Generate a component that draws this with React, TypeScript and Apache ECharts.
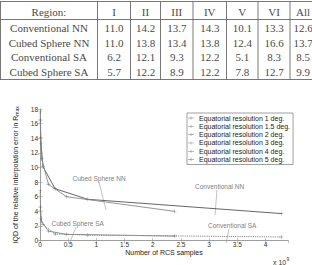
import React, { useEffect, useRef } from 'react';
import * as echarts from 'echarts';

// ---- Table data ----
const tableHeader = 'Region:';
const tableRegions = ['I', 'II', 'III', 'IV', 'V', 'VI', 'All'];
const tableMethods = ['Conventional NN', 'Cubed Sphere NN', 'Conventional SA', 'Cubed Sphere SA'];
const conventionalNNRow = [11.0, 14.2, 13.7, 14.3, 10.1, 13.3, 12.6];
const cubedSphereNNRow = [11.0, 13.8, 13.4, 13.8, 12.4, 16.6, 13.7];
const conventionalSARow = [6.2, 12.1, 9.3, 12.2, 5.1, 8.3, 8.5];
const cubedSphereSARow = [5.7, 12.2, 8.9, 12.2, 7.8, 12.7, 9.9];
const tableRows = [conventionalNNRow, cubedSphereNNRow, conventionalSARow, cubedSphereSARow];

// ---- Chart data (x in 1e9 RCS samples) ----
const resolutions = ['1', '1.5', '2', '3', '4', '5'];
const conventionalSamples = [4.28, 0.845, 0.268, 0.053, 0.017, 0.007];
const cubedSamples = [2.39, 0.472, 0.149, 0.030, 0.009, 0.004];
const conventionalNN = [3.7, 5.65, 7.1, 10.1, 13.3, 16.5];
const cubedNN = [4.0, 6.0, 7.7, 11.2, 14.1, 17.6];
const conventionalSA = [0.5, 0.75, 0.9, 2.2, 3.0, 4.6];
const cubedSA = [0.62, 0.86, 1.3, 2.6, 4.1, 6.8];
const xTicks = [0, 0.5, 1, 1.5, 2, 2.5, 3, 3.5, 4];

const SANS = 'Liberation Sans, Arial, sans-serif';
const SERIF = 'Liberation Serif, Times New Roman, serif';

const plusPath = 'path://M0,4.5H10V5.5H0Z M4.5,0H5.5V10H4.5Z';
const legendIcon = 'path://M0,5.5H12V6.5H0Z M5.5,3H6.5V9H5.5Z';

function pairs(xs: number[], ys: number[]) {
  return xs.map((x, i) => [x, ys[i]]).sort((a, b) => a[0] - b[0]);
}

export default function App() {
  const ref = useRef<HTMLDivElement>(null);
  useEffect(() => {
    const chart = echarts.init(ref.current!, null, { renderer: 'svg' });

    // table graphics
    const colEdges = [0.5, 97.5, 130.5, 160.5, 193, 226.5, 258, 290, 316];
    const rowCenters = [12, 28, 42.6, 57.2, 71.8];
    const tTop = 1.5, tHead = 19.5, tBottom = 79.5;
    const g: any[] = [];
    const lineStyle = { stroke: '#555', lineWidth: 0.8 };
    [tTop, tHead, tBottom].forEach((y) =>
      g.push({ type: 'line', shape: { x1: 0, y1: y, x2: 320, y2: y }, style: lineStyle, silent: true })
    );
    colEdges.forEach((x) =>
      g.push({ type: 'line', shape: { x1: x, y1: tTop, x2: x, y2: tBottom }, style: lineStyle, silent: true })
    );
    const cellText = (text: string, x: number, y: number) => ({
      type: 'text',
      x,
      y,
      style: { text, fill: '#4a4a4a', font: `11px ${SERIF}`, align: 'center', verticalAlign: 'middle' },
      silent: true,
    });
    const colCenter = (c: number) => (colEdges[c] + colEdges[c + 1]) / 2;
    g.push(cellText(tableHeader, colCenter(0), rowCenters[0]));
    tableRegions.forEach((r, i) => g.push(cellText(r, colCenter(i + 1), rowCenters[0])));
    tableMethods.forEach((m, ri) => {
      g.push(cellText(m, colCenter(0), rowCenters[ri + 1]));
      tableRows[ri].forEach((v, ci) => g.push(cellText(v.toFixed(1), colCenter(ci + 1), rowCenters[ri + 1])));
    });

    // annotations
    const annText = (text: string, x: number, y: number) => ({
      type: 'text',
      x,
      y,
      style: { text, fill: '#808080', font: `6.5px ${SANS}`, align: 'left', verticalAlign: 'middle' },
      silent: true,
    });
    const annLine = (x1: number, y1: number, x2: number, y2: number) => ({
      type: 'line',
      shape: { x1, y1, x2, y2 },
      style: { stroke: '#999', lineWidth: 0.6 },
      silent: true,
    });
    g.push(annText('Cubed Sphere NN', 72.5, 178.5));
    g.push(annLine(99, 182, 106, 210));
    g.push(annText('Cubed Sphere SA', 51.5, 223.3));
    g.push(annLine(76, 227, 70, 242));
    g.push(annText('Conventional NN', 195, 186));
    g.push(annLine(217, 190, 215, 215));
    g.push(annText('Conventional SA', 208, 225));
    g.push(annLine(229, 229, 226, 243));
    g.push({
      type: 'text',
      x: 273,
      y: 262,
      style: { text: 'x 10', fill: '#333', font: `7px ${SANS}`, align: 'left', verticalAlign: 'middle' },
      silent: true,
    });
    g.push({
      type: 'text',
      x: 286.5,
      y: 258.5,
      style: { text: '9', fill: '#333', font: `5px ${SANS}`, align: 'left', verticalAlign: 'middle' },
      silent: true,
    });

    const axisGray = '#999';
    const curveSeries = [
      { name: 'Conventional NN', data: pairs(conventionalSamples, conventionalNN), color: '#555', type: 'solid' },
      { name: 'Cubed Sphere NN', data: pairs(cubedSamples, cubedNN), color: '#8a8a8a', type: 'solid' },
      { name: 'Conventional SA', data: pairs(conventionalSamples, conventionalSA), color: '#777', type: [1.2, 1] },
      { name: 'Cubed Sphere SA', data: pairs(cubedSamples, cubedSA), color: '#8a8a8a', type: 'solid' },
    ].map((s) => ({
      name: s.name,
      type: 'line',
      data: s.data,
      showSymbol: false,
      symbol: 'none',
      smooth: false,
      lineStyle: { color: s.color, width: 0.9, type: s.type },
      itemStyle: { color: s.color },
      z: 2,
    }));

    const pointShades = ['#555', '#666', '#5a5a5a', '#707070', '#606060', '#505050'];
    const pointSeries = resolutions.map((r, i) => ({
      name: `Equatorial resolution ${r} deg.`,
      type: 'scatter',
      symbol: plusPath,
      symbolSize: 4,
      itemStyle: { color: pointShades[i] },
      data: [
        [conventionalSamples[i], conventionalNN[i]],
        [cubedSamples[i], cubedNN[i]],
        [conventionalSamples[i], conventionalSA[i]],
        [cubedSamples[i], cubedSA[i]],
      ],
      z: 3,
    }));

    const option: any = {
      animation: false,
      backgroundColor: '#fff',
      grid: { left: 40, top: 109, width: 248, height: 141, containLabel: false },
      legend: {
        data: pointSeries.map((s) => s.name),
        orient: 'vertical',
        left: 187,
        top: 113,
        padding: [1, 3, 1, 1],
        itemWidth: 6,
        itemHeight: 6,
        itemGap: 0.3,
        itemTextGap: 1,
        icon: legendIcon,
        backgroundColor: '#fff',
        borderColor: '#888',
        borderWidth: 0.8,
        borderRadius: 0,
        textStyle: { fontSize: 7, fontFamily: SANS, color: '#222', lineHeight: 8 },
      },
      xAxis: [
        {
          type: 'value',
          min: 0,
          max: 4.4,
          interval: 0.5,
          name: 'Number of RCS samples',
          nameLocation: 'middle',
          nameGap: 6,
          nameTextStyle: { fontSize: 7, fontFamily: SANS, color: '#222' },
          axisLine: { show: true, lineStyle: { color: axisGray, width: 0.8 } },
          axisTick: { show: true, inside: true, length: 2.5, lineStyle: { color: axisGray, width: 0.6 } },
          axisLabel: {
            fontSize: 6.5,
            fontFamily: SANS,
            color: '#333',
            margin: 0.5,
            showMaxLabel: false,
            formatter: (v: number) => (xTicks.includes(v) ? String(v) : ''),
          },
          splitLine: { show: false },
        },
        {
          type: 'value',
          position: 'top',
          min: 0,
          max: 4.4,
          interval: 0.5,
          axisLine: { show: true, lineStyle: { color: axisGray, width: 0.8 } },
          axisTick: { show: true, inside: true, length: 2.5, lineStyle: { color: axisGray, width: 0.6 } },
          axisLabel: { show: false },
          splitLine: { show: false },
        },
      ],
      yAxis: [
        {
          type: 'value',
          min: 0,
          max: 18,
          interval: 2,
          name: 'IQD of the relative interpolation error in R{sub|max}',
          nameLocation: 'middle',
          nameGap: 16,
          nameRotate: 90,
          nameTextStyle: {
            fontSize: 7,
            fontFamily: SANS,
            color: '#222',
            rich: { sub: { fontSize: 5, fontFamily: SANS, color: '#222', verticalAlign: 'bottom', padding: [3, 0, 0, 0] } },
          },
          axisLine: { show: true, lineStyle: { color: axisGray, width: 0.8 } },
          axisTick: { show: true, inside: true, length: 2.5, lineStyle: { color: axisGray, width: 0.6 } },
          axisLabel: { fontSize: 6.5, fontFamily: SANS, color: '#333', margin: 2 },
          splitLine: { show: false },
        },
        {
          type: 'value',
          position: 'right',
          min: 0,
          max: 18,
          interval: 2,
          axisLine: { show: true, lineStyle: { color: axisGray, width: 0.8 } },
          axisTick: { show: true, inside: true, length: 2.5, lineStyle: { color: axisGray, width: 0.6 } },
          axisLabel: { show: false },
          splitLine: { show: false },
        },
      ],
      series: [...curveSeries, ...pointSeries],
      graphic: g,
    };
    chart.setOption(option);
    return () => chart.dispose();
  }, []);
  return (
    <div
      ref={ref}
      style={{ position: 'absolute', left: 0, top: 0, width: 312, height: 265, background: '#fff' }}
    />
  );
}
